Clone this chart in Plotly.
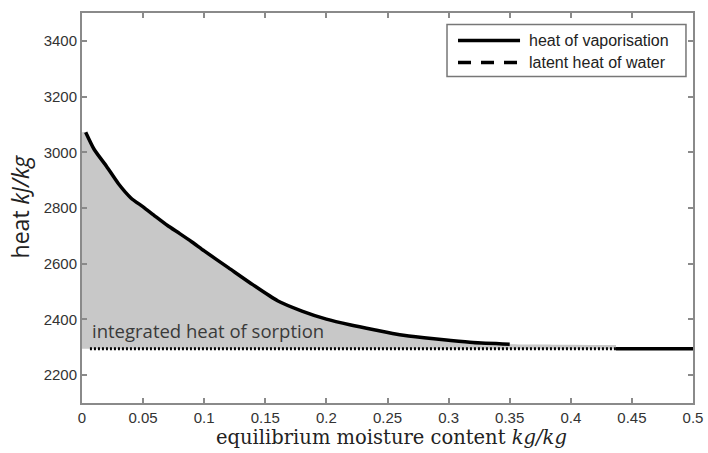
import plotly.graph_objects as go

# Heat of vaporisation of bound water vs. equilibrium moisture content
moisture = [0.003, 0.01, 0.02, 0.03, 0.04, 0.05, 0.06, 0.07, 0.08, 0.09, 0.10,
            0.12, 0.14, 0.16, 0.18, 0.20, 0.22, 0.24, 0.26, 0.28, 0.30, 0.32, 0.35]
heat_vap = [3072, 3010, 2950, 2886, 2836, 2804, 2770, 2737, 2708, 2678, 2646,
            2585, 2524, 2467, 2430, 2401, 2380, 2362, 2345, 2334, 2325, 2317, 2311]

# Tail of the curve, where it has merged with the latent heat of free water
moisture_tail = [0.437, 0.5]
heat_tail = [2295, 2295]

# Shaded region (integrated heat of sorption): upper boundary
sorption_x = [0.0] + moisture + [0.37, 0.40, 0.437]
sorption_y = [3072] + heat_vap + [2310, 2309, 2308]

# Latent heat of water
latent_x = [0.0065, 0.437]
latent_heat = 2295

x_ticks = [0, 0.05, 0.1, 0.15, 0.2, 0.25, 0.3, 0.35, 0.4, 0.45, 0.5]
x_tick_text = ["0", "0.05", "0.1", "0.15", "0.2", "0.25", "0.3", "0.35", "0.4", "0.45", "0.5"]
y_ticks = [2200, 2400, 2600, 2800, 3000, 3200, 3400]

AXIS_GREY = "#8a8a8a"
TEXT_GREY = "#333333"

fig = go.Figure()

# Baseline of the shaded area, then the area itself
fig.add_trace(go.Scatter(x=[sorption_x[0], sorption_x[-1]], y=[latent_heat, latent_heat],
                         mode="lines", line=dict(width=0), showlegend=False, hoverinfo="skip"))
fig.add_trace(go.Scatter(x=sorption_x, y=sorption_y, mode="lines",
                         line=dict(width=0, shape="spline", smoothing=0.6),
                         fill="tonexty", fillcolor="#c8c8c8", showlegend=False, hoverinfo="skip"))

# Latent heat of water (dense dotted line)
fig.add_trace(go.Scatter(x=latent_x, y=[latent_heat] * len(latent_x), mode="lines",
                         line=dict(color="black", width=3, dash="2px,2px"),
                         name="latent heat of water", showlegend=False))

# Heat of vaporisation
fig.add_trace(go.Scatter(x=moisture + [None] + moisture_tail,
                         y=heat_vap + [None] + heat_tail,
                         mode="lines",
                         line=dict(color="black", width=3.5, shape="spline", smoothing=0.6),
                         connectgaps=False, name="heat of vaporisation", showlegend=False))

axis_common = dict(showline=True, linecolor=AXIS_GREY, linewidth=2, mirror="ticks",
                   ticks="inside", ticklen=5, tickwidth=1.5, tickcolor=AXIS_GREY,
                   showgrid=False, zeroline=False, automargin=False,
                   tickfont=dict(family="Liberation Sans, Arial", size=15, color=TEXT_GREY))

fig.update_xaxes(range=[0, 0.5], tickvals=x_ticks, ticktext=x_tick_text, **axis_common)
fig.update_yaxes(range=[2100, 3500], tickvals=y_ticks, **axis_common)

annotations = [
    dict(text="heat <i>kJ/kg</i>", xref="paper", yref="paper", x=-0.1015, y=0.504,
         textangle=-90, showarrow=False, xanchor="center", yanchor="middle",
         font=dict(family="Open Sans", size=23, color="#222222")),
    dict(text="equilibrium moisture content <i>kg/kg</i>", xref="paper", yref="paper",
         x=0.507, y=-0.0885, showarrow=False, xanchor="center", yanchor="middle",
         font=dict(family="DejaVu Serif", size=19.5, color="#222222")),
    dict(text="integrated heat of sorption", xref="x", yref="y", x=0.0065, y=2360,
         showarrow=False, xanchor="left", yanchor="middle",
         font=dict(family="Open Sans", size=18.5, color="#3a3a3a")),
    dict(text="heat of vaporisation", xref="paper", yref="paper", x=0.7283, y=0.9295,
         showarrow=False, xanchor="left", yanchor="middle",
         font=dict(family="Liberation Sans, Arial", size=16, color="#222222")),
    dict(text="latent heat of water", xref="paper", yref="paper", x=0.7283, y=0.873,
         showarrow=False, xanchor="left", yanchor="middle",
         font=dict(family="Liberation Sans, Arial", size=16, color="#222222")),
]

shapes = [
    dict(type="rect", xref="paper", yref="paper", x0=0.5974, x1=0.9885, y0=0.837, y1=0.9705,
         line=dict(color="#777777", width=1.5), fillcolor="white"),
    dict(type="line", xref="paper", yref="paper", x0=0.6154, x1=0.7169, y0=0.9295, y1=0.9295,
         line=dict(color="black", width=3.5)),
    dict(type="line", xref="paper", yref="paper", x0=0.6154, x1=0.7169, y0=0.873, y1=0.873,
         line=dict(color="black", width=3.5, dash="13px,10px")),
]

fig.update_layout(width=708, height=453, margin=dict(l=82, r=15, t=13, b=50),
                  paper_bgcolor="white", plot_bgcolor="white",
                  annotations=annotations, shapes=shapes, showlegend=False)

fig.write_html("out.html")
